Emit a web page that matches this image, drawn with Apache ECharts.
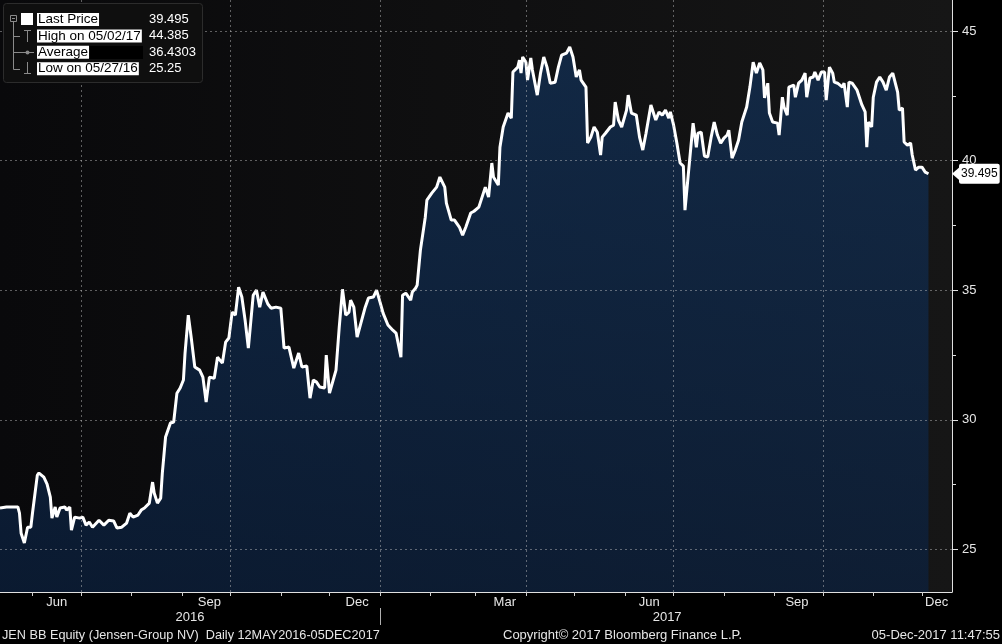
<!DOCTYPE html>
<html>
<head>
<meta charset="utf-8">
<script src="https://cdn.jsdelivr.net/npm/echarts@6/dist/echarts.min.js"></script>
<style>
html,body{margin:0;padding:0;background:#000;}
#chart{width:1002px;height:644px;}
</style>
</head>
<body>
<div id="chart"></div>
<script>
// ---------- data ----------
const startDate = [2016, 4, 12]; // 12 May 2016 (month is 0-based)
// calendar days since 12 May 2016 for each sampled close
const dayOffsets = [
0,4,8,11,12,13,15,17,19,20,23,24,27,29,31,32,34,35,37,40,41,43,44,46,49,51,53,55,57,61,64,67,70,72,75,78,80,82,85,87,89,92,94,95,97,99,100,102,105,107,109,111,113,114,116,118,120,123,125,127,129,132,134,137,139,141,143,145,147,
149,151,153,156,158,160,162,165,167,170,173,175,178,181,184,186,189,191,193,195,197,200,201,203,204,207,209,211,213,215,216,218,220,222,223,225,227,230,232,235,236,239,242,244,247,248,250,253,254,256,257,259,
262,263,266,269,271,274,275,278,280,283,285,287,290,292,295,296,299,301,303,304,307,308,310,313,315,316,319,320,321,322,324,325,327,328,331,333,335,337,339,342,344,346,349,351,353,355,357,358,361,362,
364,366,368,370,371,373,376,378,379,381,383,386,387,389,392,394,396,398,401,404,406,408,410,412,413,415,417,419,421,422,424,427,429,430,432,434,436,438,440,442,444,446,448,449,451,453,455,457,460,462,464,465,466,468,470,471,473,474,476,479,480,482,483,485,486,489,490,492,494,496,497,499,501,502,504,506,508,509,511,513,514,516,519,520,522,523,525,528,529,531,533,534,535,537,538,540,542,544,546,548,550,553,554,556,557,559,561,562,564,566,568,570,572
];
const prices = [
26.60,26.64,26.64,26.64,26.40,25.63,25.25,25.86,25.86,26.40,27.87,27.95,27.79,27.52,27.02,26.21,26.64,26.25,26.60,26.64,26.52,26.64,25.75,26.25,26.21,26.25,25.94,26.06,25.86,26.13,25.94,26.13,26.10,25.83,25.86,26.02,26.40,26.25,26.33,26.52,26.60,26.79,27.60,27.18,26.79,26.98,27.95,29.34,29.88,29.92,31.03,31.23,31.54,32.58,34.04,33.08,32.04,31.92,31.65,30.69,31.65,31.61,32.42,32.19,33.00,33.16,34.16,34.04,35.12,
34.74,33.85,32.77,34.81,35.01,34.35,34.93,34.47,34.31,34.35,34.31,32.77,32.81,32.00,32.58,32.04,32.08,30.84,31.54,31.46,31.27,31.23,32.50,31.03,31.03,31.92,33.58,35.04,34.04,34.16,34.62,34.35,33.19,33.66,33.66,34.35,34.70,34.74,35.01,34.35,34.12,33.66,33.46,33.35,32.42,34.81,34.89,34.62,34.93,35.08,35.20,36.55,
37.82,38.48,38.75,38.98,39.37,38.98,38.36,37.71,37.71,37.44,37.13,37.44,37.98,38.05,38.21,38.21,38.98,38.60,39.91,39.37,39.06,40.52,41.30,41.84,41.64,43.42,43.61,43.88,43.38,44.00,43.80,43.11,43.96,43.50,42.53,43.38,44.00,43.61,42.99,43.03,43.61,44.07,44.15,44.385,44.00,43.23,43.50,43.11,42.84,40.68,
40.91,41.30,41.10,40.22,40.91,41.06,41.30,41.37,42.26,41.57,41.30,41.95,42.53,41.84,41.76,40.91,40.41,41.06,42.15,41.57,41.88,41.76,41.95,41.64,41.88,41.37,40.68,39.91,39.79,38.09,39.44,41.45,40.52,41.06,41.10,40.18,40.14,40.87,41.49,40.99,40.68,40.87,40.99,41.18,40.10,40.41,40.79,41.49,42.07,42.84,43.80,43.80,43.38,43.77,43.50,42.42,42.99,41.84,41.49,41.45,40.99,42.45,42.07,41.76,42.84,42.92,42.45,42.99,43.11,43.38,42.45,43.19,43.23,43.42,43.11,43.42,43.42,42.34,43.61,43.38,43.03,42.99,42.84,42.99,42.07,43.03,42.99,42.72,42.65,42.15,41.88,40.52,41.49,41.30,42.45,43.03,43.23,43.03,42.72,43.23,43.38,42.65,41.95,42.03,40.72,40.60,40.68,40.22,39.64,39.75,39.75,39.56,39.495
];
const lastPrice = 39.495;
const highPrice = 44.385;
const avgPrice = 36.4303;
const lowPrice = 25.25;

const priceTicks = [25, 30, 35, 40, 45];
const minorPriceTicks = [27.5, 32.5, 37.5, 42.5];
const monthStarts = ['2016-06-01','2016-07-01','2016-08-01','2016-09-01','2016-10-01','2016-11-01','2016-12-01',
  '2017-01-01','2017-02-01','2017-03-01','2017-04-01','2017-05-01','2017-06-01','2017-07-01','2017-08-01',
  '2017-09-01','2017-10-01','2017-11-01','2017-12-01'];
const quarterStarts = ['2016-07-01','2016-10-01','2017-01-01','2017-04-01','2017-07-01','2017-10-01'];
const monthLabelDates = ['2016-06-16','2016-09-18','2016-12-18','2017-03-19','2017-06-16','2017-09-15','2017-12-10'];
const monthLabels = ['Jun','Sep','Dec','Mar','Jun','Sep','Dec'];
const yearLabelDates = ['2016-09-06','2017-06-27'];
const yearLabels = ['2016','2017'];
const yearBreaks = ['2017-01-01'];
const axisStart = '2016-05-12';
const axisEnd = '2017-12-19T12:00:00';
const yMin = 23.36, yMax = 46.2;

const legendRows = [
  {label: 'Last Price', value: lastPrice.toFixed(3)},
  {label: 'High on 05/02/17', value: highPrice.toFixed(3)},
  {label: 'Average', value: avgPrice.toFixed(4)},
  {label: 'Low on 05/27/16', value: lowPrice.toFixed(2)}
];
const footerLeft = 'JEN BB Equity (Jensen-Group NV)  Daily 12MAY2016-05DEC2017';
const footerCenter = 'Copyright\u00a9 2017 Bloomberg Finance L.P.';
const footerRight = '05-Dec-2017 11:47:55';

// ---------- build ----------
const FONT = 'Liberation Sans';
function ts(s) { // local-time timestamp of 'YYYY-MM-DD[THH:MM:SS]'
  const m = s.match(/(\d+)-(\d+)-(\d+)(?:T(\d+):(\d+):(\d+))?/);
  return new Date(+m[1], +m[2] - 1, +m[3], +(m[4] || 0), +(m[5] || 0), +(m[6] || 0)).getTime();
}
const seriesData = dayOffsets.map((d, i) => [
  new Date(startDate[0], startDate[1], startDate[2] + d).getTime(), prices[i]
]);
const xMin = ts(axisStart), xMax = ts(axisEnd);
const labelTs = monthLabelDates.map(ts);
const yearTs = yearLabelDates.map(ts);
function nearestLabel(v, tsList, labels) {
  let best = 0, bd = Infinity;
  tsList.forEach((t, i) => { const dd = Math.abs(t - v); if (dd < bd) { bd = dd; best = i; } });
  return labels[best];
}

const grey = '#8a8a8a';
const graphic = [
  {type: 'rect', shape: {x: 3.5, y: 3.5, width: 199, height: 79, r: 3}, style: {fill: '#0f0f0f', stroke: '#2c2c2c', lineWidth: 1}, z: 100},
  {type: 'rect', shape: {x: 10.5, y: 15.5, width: 6, height: 6}, style: {fill: 'none', stroke: grey, lineWidth: 1}, z: 101},
  {type: 'line', shape: {x1: 12, y1: 18.5, x2: 15, y2: 18.5}, style: {stroke: grey, lineWidth: 1}, z: 101},
  {type: 'line', shape: {x1: 13.5, y1: 22, x2: 13.5, y2: 69.5}, style: {stroke: grey, lineWidth: 1}, z: 101},
  {type: 'line', shape: {x1: 13.5, y1: 36.5, x2: 20, y2: 36.5}, style: {stroke: grey, lineWidth: 1}, z: 101},
  {type: 'line', shape: {x1: 13.5, y1: 69.5, x2: 20, y2: 69.5}, style: {stroke: grey, lineWidth: 1}, z: 101},
  {type: 'rect', shape: {x: 21, y: 13, width: 12, height: 12}, style: {fill: '#ffffff'}, z: 101},
  {type: 'line', shape: {x1: 24, y1: 30.5, x2: 31, y2: 30.5}, style: {stroke: grey, lineWidth: 1}, z: 101},
  {type: 'line', shape: {x1: 27.5, y1: 30, x2: 27.5, y2: 42}, style: {stroke: grey, lineWidth: 1}, z: 101},
  {type: 'line', shape: {x1: 14, y1: 52.5, x2: 34, y2: 52.5}, style: {stroke: grey, lineWidth: 1}, z: 101},
  {type: 'circle', shape: {cx: 27.5, cy: 52.5, r: 2}, style: {fill: grey}, z: 101},
  {type: 'line', shape: {x1: 27.5, y1: 62, x2: 27.5, y2: 73}, style: {stroke: grey, lineWidth: 1}, z: 101},
  {type: 'line', shape: {x1: 24, y1: 73.5, x2: 31, y2: 73.5}, style: {stroke: grey, lineWidth: 1}, z: 101},
  {type: 'rect', shape: {x: 85, y: 46, width: 58, height: 13}, style: {fill: '#000'}, z: 101}
];
legendRows.forEach((r, i) => {
  const top = 13 + i * 16.4;
  graphic.push({type: 'text', x: 37, y: top, z: 102, style: {
    text: r.label, fill: '#000', backgroundColor: '#fff', padding: [0, 1, 0, 1],
    fontSize: 13.5, fontFamily: FONT, lineHeight: 13, verticalAlign: 'top', align: 'left'}});
  graphic.push({type: 'text', x: 149, y: top, z: 102, style: {
    text: r.value, fill: '#fff', fontSize: 13, fontFamily: FONT, lineHeight: 13, verticalAlign: 'top', align: 'left'}});
});

const chart = echarts.init(document.getElementById('chart'), null, {renderer: 'canvas'});
const txt = {color: '#e6e6e6', fontSize: 13, fontFamily: FONT, fontWeight: 'normal'};
const dash = {color: 'rgba(200,200,200,0.45)', type: [2, 3], width: 1};
chart.setOption({
  backgroundColor: '#000',
  animation: false,
  textStyle: {fontFamily: FONT},
  title: [
    {text: footerLeft, left: 2, top: 629, padding: 0, textStyle: Object.assign({}, txt, {fontSize: 12.7})},
    {text: footerCenter, left: 503, top: 629, padding: 0, textStyle: txt},
    {text: footerRight, right: 2, top: 629, padding: 0, textStyle: txt}
  ],
  grid: {left: 0, right: 50, top: 0, bottom: 52, show: true, borderWidth: 0,
    containLabel: false, outerBoundsMode: 'none',
    backgroundColor: {type: 'linear', x: 0, y: 0, x2: 1, y2: 0,
      colorStops: [{offset: 0, color: '#09090b'}, {offset: 1, color: '#161616'}]}},
  xAxis: [
    {
      type: 'value', min: xMin, max: xMax, z: 3,
      axisLine: {show: true, onZero: false, lineStyle: {color: '#e0e0e0', width: 1}},
      axisTick: {show: false, customValues: quarterStarts.map(ts)},
      axisLabel: {show: false},
      splitLine: {show: true, lineStyle: dash}
    },
    {
      type: 'value', min: xMin, max: xMax, position: 'bottom', z: 3,
      axisLine: {show: false, onZero: false},
      axisTick: {show: true, length: 4, customValues: monthStarts.map(ts), lineStyle: {color: '#d0d0d0'}},
      axisLabel: {show: true, customValues: labelTs, formatter: v => nearestLabel(v, labelTs, monthLabels),
        margin: 4, color: '#e6e6e6', fontSize: 13, fontFamily: FONT},
      splitLine: {show: false}
    },
    {
      type: 'value', min: xMin, max: xMax, position: 'bottom', offset: 16, z: 3,
      axisLine: {show: false, onZero: false},
      axisTick: {show: true, length: 17, customValues: yearBreaks.map(ts), lineStyle: {color: '#b0b0b0'}},
      axisLabel: {show: true, customValues: yearTs, formatter: v => nearestLabel(v, yearTs, yearLabels),
        margin: 3, color: '#e6e6e6', fontSize: 13, fontFamily: FONT},
      splitLine: {show: false}
    }
  ],
  yAxis: [
    {
      type: 'value', position: 'right', min: yMin, max: yMax, z: 3,
      axisLine: {show: true, onZero: false, lineStyle: {color: '#e0e0e0', width: 1}},
      axisTick: {show: true, length: 6, customValues: priceTicks, lineStyle: {color: '#e0e0e0'}},
      axisLabel: {show: true, customValues: priceTicks, margin: 10, color: '#e6e6e6', fontSize: 13, fontFamily: FONT},
      splitLine: {show: true, lineStyle: dash}
    },
    {
      type: 'value', position: 'right', min: yMin, max: yMax, z: 3,
      axisLine: {show: false, onZero: false},
      axisTick: {show: true, length: 4, customValues: minorPriceTicks, lineStyle: {color: '#e0e0e0'}},
      axisLabel: {show: false},
      splitLine: {show: false}
    },
    {
      type: 'value', position: 'right', min: yMin, max: yMax, z: 10,
      axisLine: {show: false, onZero: false},
      axisTick: {show: false, customValues: [lastPrice]},
      axisLabel: {show: true, customValues: [lastPrice], formatter: () => lastPrice.toFixed(3),
        margin: 7, color: '#000', backgroundColor: '#fff', padding: [4, 2, 4, 2],
        fontSize: 12, fontFamily: FONT, borderRadius: 2},
      splitLine: {show: false}
    }
  ],
  series: [{
    type: 'line', xAxisIndex: 0, yAxisIndex: 0, data: seriesData,
    symbol: 'none', smooth: false, z: 2,
    lineStyle: {color: '#ffffff', width: 3},
    areaStyle: {origin: 'start', color: {type: 'linear', x: 0, y: 0, x2: 0, y2: 1,
      colorStops: [{offset: 0, color: '#12325a'}, {offset: 1, color: '#0b2140'}]}},
    markPoint: {
      silent: true,
      data: [{coord: [xMax, lastPrice], symbol: 'triangle',
        symbolRotate: 90, symbolSize: [14, 8], symbolOffset: [4, 0],
        itemStyle: {color: '#fff'}, label: {show: false}}]
    }
  }],
  graphic: graphic
});
</script>
</body>
</html>
